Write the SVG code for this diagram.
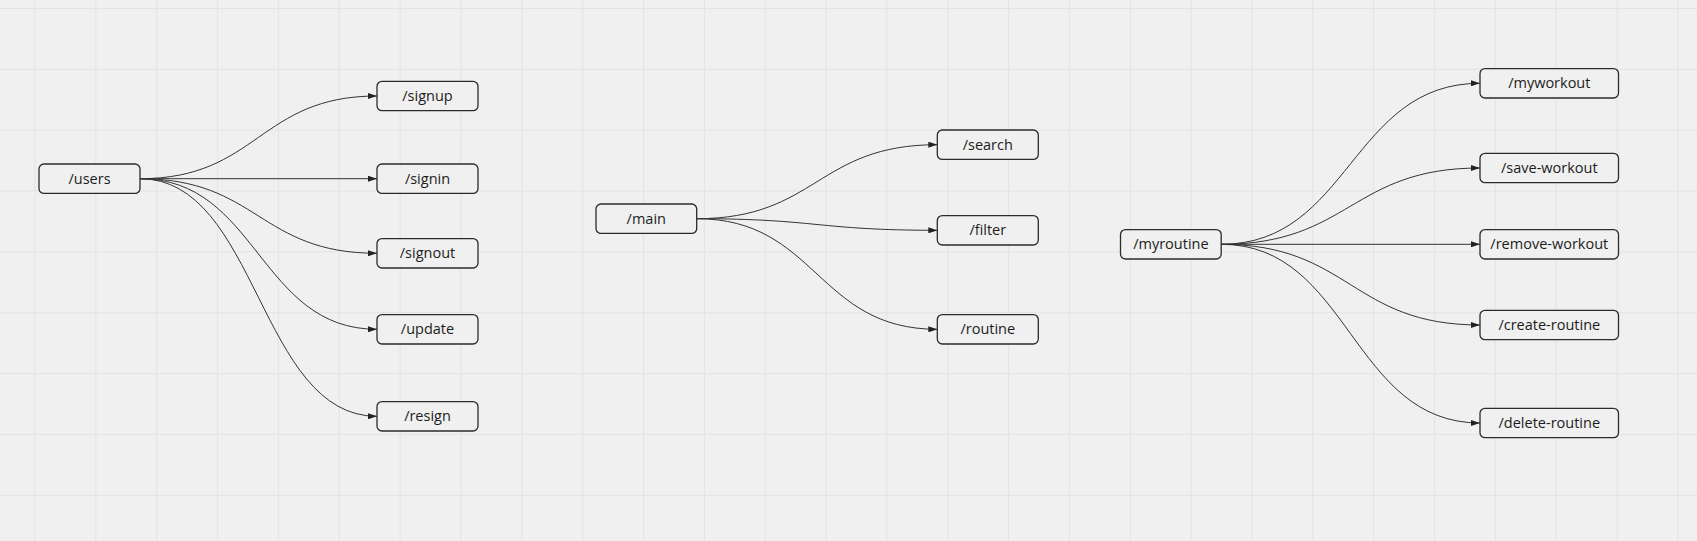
<svg xmlns="http://www.w3.org/2000/svg" width="1697" height="541" viewBox="0 0 1697 541">
<defs>
<style>
.bg{fill:#f0f0f0}
.grid line{stroke:#e3e3e3;stroke-width:1}
.node rect{fill:#f0f0f0;stroke:#2b2b2b;stroke-width:1.3}
.node text{font-family:"Open Sans","Liberation Sans",sans-serif;font-size:14.5px;fill:#1c1c1c;text-anchor:middle}
.edges path{fill:none;stroke:#333;stroke-width:1;marker-end:url(#arr)}
</style>
<marker id="arr" markerUnits="userSpaceOnUse" markerWidth="9" markerHeight="6" refX="9" refY="3" orient="auto">
<path d="M0,0 L9,3 L0,6 z" fill="#222"/>
</marker>
</defs>
<rect class="bg" x="0" y="0" width="1697" height="541"/>
<g class="grid">
<line x1="35" y1="0" x2="35" y2="541"/><line x1="95.85" y1="0" x2="95.85" y2="541"/><line x1="156.7" y1="0" x2="156.7" y2="541"/><line x1="217.55" y1="0" x2="217.55" y2="541"/><line x1="278.4" y1="0" x2="278.4" y2="541"/><line x1="339.25" y1="0" x2="339.25" y2="541"/><line x1="400.1" y1="0" x2="400.1" y2="541"/><line x1="460.95" y1="0" x2="460.95" y2="541"/><line x1="521.8" y1="0" x2="521.8" y2="541"/><line x1="582.65" y1="0" x2="582.65" y2="541"/><line x1="643.5" y1="0" x2="643.5" y2="541"/><line x1="704.35" y1="0" x2="704.35" y2="541"/><line x1="765.2" y1="0" x2="765.2" y2="541"/><line x1="826.05" y1="0" x2="826.05" y2="541"/><line x1="886.9" y1="0" x2="886.9" y2="541"/><line x1="947.75" y1="0" x2="947.75" y2="541"/><line x1="1008.6" y1="0" x2="1008.6" y2="541"/><line x1="1069.45" y1="0" x2="1069.45" y2="541"/><line x1="1130.3" y1="0" x2="1130.3" y2="541"/><line x1="1191.15" y1="0" x2="1191.15" y2="541"/><line x1="1252" y1="0" x2="1252" y2="541"/><line x1="1312.85" y1="0" x2="1312.85" y2="541"/><line x1="1373.7" y1="0" x2="1373.7" y2="541"/><line x1="1434.55" y1="0" x2="1434.55" y2="541"/><line x1="1495.4" y1="0" x2="1495.4" y2="541"/><line x1="1556.25" y1="0" x2="1556.25" y2="541"/><line x1="1617.1" y1="0" x2="1617.1" y2="541"/><line x1="1677.95" y1="0" x2="1677.95" y2="541"/>
<line x1="0" y1="8.5" x2="1697" y2="8.5"/><line x1="0" y1="69.35" x2="1697" y2="69.35"/><line x1="0" y1="130.2" x2="1697" y2="130.2"/><line x1="0" y1="191.05" x2="1697" y2="191.05"/><line x1="0" y1="251.9" x2="1697" y2="251.9"/><line x1="0" y1="312.75" x2="1697" y2="312.75"/><line x1="0" y1="373.6" x2="1697" y2="373.6"/><line x1="0" y1="434.45" x2="1697" y2="434.45"/><line x1="0" y1="495.3" x2="1697" y2="495.3"/>
</g>
<g class="edges">
<path d="M140,178.7 C258,178.7 259,96 377,96"/>
<path d="M140,178.7 L377,178.7"/>
<path d="M140,178.7 C258,178.7 259,253.3 377,253.3"/>
<path d="M140,178.7 C258,178.7 259,329.3 377,329.3"/>
<path d="M140,178.7 C258,178.7 259,416.3 377,416.3"/>
<path d="M696.7,218.7 C817,218.7 817,144.7 937.3,144.7"/>
<path d="M696.7,218.7 C817,218.7 817,230.3 937.3,230.3"/>
<path d="M696.7,218.7 C817,218.7 817,329.3 937.3,329.3"/>
<path d="M1221.2,244.3 C1350,244.3 1351,83.3 1480,83.3"/>
<path d="M1221.2,244.3 C1350,244.3 1351,168 1480,168"/>
<path d="M1221.2,244.3 L1480,244.3"/>
<path d="M1221.2,244.3 C1350,244.3 1351,325 1480,325"/>
<path d="M1221.2,244.3 C1350,244.3 1351,423 1480,423"/>
</g>
<g id="users" class="node"><rect x="39" y="164" width="101" height="29.4" rx="5"/><text x="89.5" y="183.8">/users</text></g>
<g id="signup" class="node"><rect x="377" y="81.3" width="101" height="29.4" rx="5"/><text x="427.5" y="101.1">/signup</text></g>
<g id="signin" class="node"><rect x="377" y="164" width="101" height="29.4" rx="5"/><text x="427.5" y="183.8">/signin</text></g>
<g id="signout" class="node"><rect x="377" y="238.6" width="101" height="29.4" rx="5"/><text x="427.5" y="258.4">/signout</text></g>
<g id="update" class="node"><rect x="377" y="314.6" width="101" height="29.4" rx="5"/><text x="427.5" y="334.4">/update</text></g>
<g id="resign" class="node"><rect x="377" y="401.6" width="101" height="29.4" rx="5"/><text x="427.5" y="421.4">/resign</text></g>
<g id="main" class="node"><rect x="596" y="204" width="100.7" height="29.4" rx="5"/><text x="646.3" y="223.8">/main</text></g>
<g id="search" class="node"><rect x="937.3" y="130" width="101" height="29.4" rx="5"/><text x="987.8" y="149.8">/search</text></g>
<g id="filter" class="node"><rect x="937.3" y="215.6" width="101" height="29.4" rx="5"/><text x="987.8" y="235.4">/filter</text></g>
<g id="routine" class="node"><rect x="937.3" y="314.6" width="101" height="29.4" rx="5"/><text x="987.8" y="334.4">/routine</text></g>
<g id="myroutine" class="node"><rect x="1120.5" y="229.6" width="100.7" height="29.4" rx="5"/><text x="1170.9" y="249.4">/myroutine</text></g>
<g id="myworkout" class="node"><rect x="1480" y="68.6" width="138.5" height="29.4" rx="5"/><text x="1549.3" y="88.4">/myworkout</text></g>
<g id="save-workout" class="node"><rect x="1480" y="153.3" width="138.5" height="29.4" rx="5"/><text x="1549.3" y="173.1">/save-workout</text></g>
<g id="remove-workout" class="node"><rect x="1480" y="229.6" width="138.5" height="29.4" rx="5"/><text x="1549.3" y="249.4">/remove-workout</text></g>
<g id="create-routine" class="node"><rect x="1480" y="310.3" width="138.5" height="29.4" rx="5"/><text x="1549.3" y="330.1">/create-routine</text></g>
<g id="delete-routine" class="node"><rect x="1480" y="408.3" width="138.5" height="29.4" rx="5"/><text x="1549.3" y="428.1">/delete-routine</text></g>
</svg>
